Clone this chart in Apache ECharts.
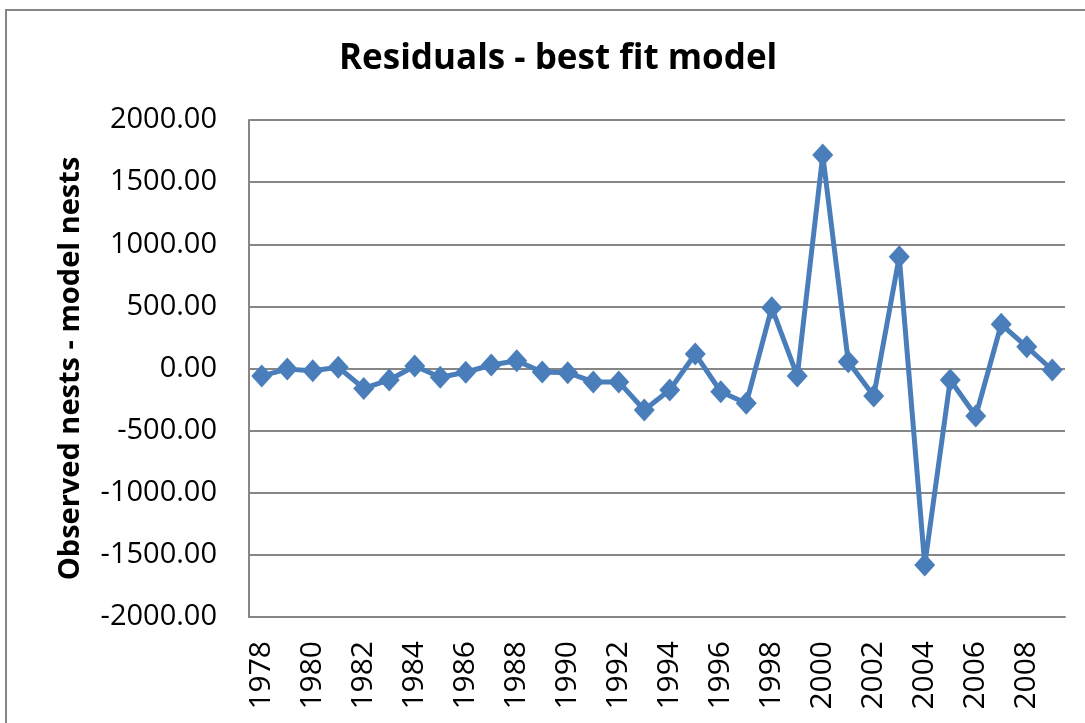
<!DOCTYPE html>
<html>
<head>
<meta charset="utf-8">
<script src="https://cdn.jsdelivr.net/npm/echarts@6/dist/echarts.min.js"></script>
<style>
  html, body { margin: 0; padding: 0; background: #fff; }
</style>
</head>
<body>
<div id="chart" style="width: 1085px; height: 723px;"></div>
<script>
// residuals
const years = ['1978', '1979', '1980', '1981', '1982', '1983', '1984', '1985',
  '1986', '1987', '1988', '1989', '1990', '1991', '1992', '1993', '1994', '1995',
  '1996', '1997', '1998', '1999', '2000', '2001', '2002', '2003', '2004', '2005',
  '2006', '2007', '2008', '2009']
const residuals = [-60, -5, -18, 10, -160, -92, 20, -70, -30, 28, 63, -28, -34,
  -108, -108, -334, -173, 117, -187, -280, 489, -60, 1718, 55, -221, 900, -1581,
  -92, -382, 356, 175, -12]

const font = 'Open Sans'

const chart = echarts.init(document.getElementById('chart'))
chart.setOption({
  animation: false,
  title: {
    text: 'Residuals - best fit model',
    left: 334,
    top: 37,
    textStyle: { fontFamily: font, fontSize: 35, fontWeight: 'bold', color: '#000' }
  },
  graphic: [{
    type: 'rect',
    shape: { x: 6, y: 10, width: 1200, height: 900 },
    style: { fill: 'none', stroke: '#868686', lineWidth: 2 },
    silent: true
  }],
  grid: { left: 249, right: 20, top: 120, bottom: 106 },
  xAxis: {
    type: 'category',
    data: years,
    boundaryGap: true,
    axisLine: { onZero: false, lineStyle: { color: '#868686', width: 2 } },
    axisTick: { show: false },
    axisLabel: {
      interval: 1,
      rotate: 90,
      margin: 24,
      fontFamily: font,
      fontSize: 30,
      color: '#000'
    }
  },
  yAxis: {
    type: 'value',
    min: -2000,
    max: 2000,
    interval: 500,
    name: 'Observed nests - model nests',
    nameLocation: 'middle',
    nameGap: 164,
    nameTextStyle: { fontFamily: font, fontSize: 29, fontWeight: 'bold', color: '#000' },
    axisLine: { show: true, lineStyle: { color: '#868686', width: 2 } },
    axisTick: { show: false },
    splitLine: { lineStyle: { color: '#868686', width: 2 } },
    axisLabel: {
      margin: 32,
      fontFamily: font,
      fontSize: 29,
      color: '#000',
      formatter: v => v.toFixed(2)
    }
  },
  series: [{
    type: 'line',
    data: residuals,
    symbol: 'diamond',
    symbolSize: [21, 23],
    showAllSymbol: true,
    lineStyle: { color: '#4a7ebb', width: 5 },
    itemStyle: { color: '#4a7ebb' }
  }]
})
</script>
</body>
</html>
